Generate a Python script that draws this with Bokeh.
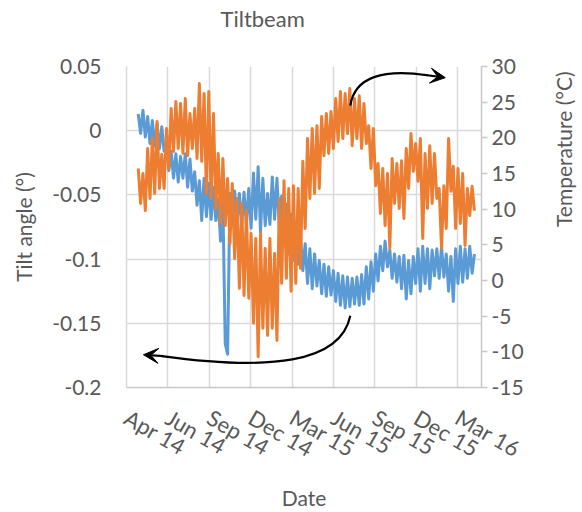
import math
import pandas as pd
from bokeh.plotting import figure
from bokeh.models import Range1d, LinearAxis, FixedTicker, Arrow, VeeHead, Title
from bokeh.embed import file_html
from bokeh.resources import INLINE

# ---------------- data ----------------
START = pd.Timestamp("2014-04-01")

tick_days = [0, 88, 176, 264, 352, 440, 528, 616, 704]
tick_labels = ["Apr 14", "Jun 14", "Sep 14", "Dec 14", "Mar 15",
               "Jun 15", "Sep 15", "Dec 15", "Mar 16"]

tilt_ticks = [-0.2, -0.15, -0.1, -0.05, 0.0, 0.05]
tilt_tick_labels = ["-0.2", "-0.15", "-0.1", "-0.05", "0", "0.05"]
temp_ticks = [-15, -10, -5, 0, 5, 10, 15, 20, 25, 30]
temp_tick_labels = ["-15", "-10", "-5", "0", "5", "10", "15", "20", "25", "30"]

# sample days after START (every 5 days)
sample_days = list(range(25, 745, 5))

tilt = [0.013, -0.002, 0.016, -0.005, 0.011, -0.010, 0.008, -0.012, 0.005, -0.014,
        0.003, -0.016, -0.010, -0.031, -0.016, -0.037, -0.018, -0.040, -0.020, -0.037,
        -0.018, -0.044, -0.022, -0.047, -0.032, -0.058, -0.039, -0.070, -0.037, -0.067,
        -0.041, -0.069, -0.044, -0.070, -0.053, -0.086, -0.057, -0.166, -0.174, -0.049,
        -0.070, -0.047, -0.072, -0.049, -0.074, -0.048, -0.073, -0.045, -0.076, -0.033,
        -0.069, -0.028, -0.079, -0.037, -0.074, -0.049, -0.073, -0.036, -0.069, -0.037,
        -0.074, -0.051, -0.084, -0.057, -0.096, -0.065, -0.101, -0.072, -0.104, -0.082,
        -0.109, -0.088, -0.119, -0.092, -0.123, -0.096, -0.121, -0.101, -0.127, -0.104,
        -0.129, -0.106, -0.128, -0.109, -0.133, -0.111, -0.136, -0.113, -0.138, -0.114,
        -0.137, -0.115, -0.135, -0.114, -0.136, -0.112, -0.135, -0.106, -0.131, -0.102,
        -0.125, -0.096, -0.117, -0.090, -0.109, -0.086, -0.106, -0.093, -0.115, -0.096,
        -0.118, -0.098, -0.123, -0.097, -0.131, -0.101, -0.127, -0.098, -0.119, -0.092,
        -0.125, -0.090, -0.119, -0.092, -0.123, -0.093, -0.113, -0.092, -0.115, -0.090,
        -0.114, -0.096, -0.125, -0.098, -0.133, -0.092, -0.119, -0.090, -0.118, -0.092,
        -0.115, -0.090, -0.111, -0.096]

temp = [15.7, 10.8, 15.0, 9.8, 18.5, 11.5, 19.9, 12.2, 22.3, 12.9,
        17.7, 12.9, 21.3, 15.7, 24.1, 18.1, 25.1, 18.5, 24.8, 17.8,
        25.5, 17.5, 23.4, 18.5, 24.1, 17.1, 27.6, 16.7, 26.2, 12.2,
        26.5, 11.5, 23.4, 10.1, 17.8, 8.0, 17.1, 7.7, 14.3, 5.2,
        13.6, 3.1, 11.5, -1.1, 10.8, -2.1, 9.8, -2.5, 6.6, -6.0,
        5.9, -10.7, 6.6, -6.7, 4.5, -7.7, 5.9, -6.7, 3.8, -8.4,
        11.5, -0.4, 14.0, 0.3, 12.9, -1.5, 13.3, -0.4, 12.9, 1.7,
        16.7, 7.3, 19.9, 11.5, 21.3, 12.2, 21.7, 12.9, 23.0, 17.5,
        23.4, 17.8, 23.7, 18.5, 25.5, 19.5, 26.5, 19.9, 26.2, 20.6,
        26.9, 18.9, 25.5, 19.9, 25.9, 18.5, 24.8, 19.2, 21.7, 15.7,
        21.3, 13.3, 16.4, 9.4, 15.7, 7.7, 15.0, 4.5, 17.1, 10.8,
        16.4, 10.1, 16.8, 8.7, 18.5, 12.9, 20.6, 15.3, 19.2, 13.9,
        19.9, 5.9, 17.8, 10.1, 18.9, 10.8, 17.8, 11.5, 12.9, 4.5,
        13.3, 7.3, 19.9, 12.5, 16.0, 7.3, 15.7, 8.0, 15.0, 4.9,
        12.9, 9.1, 13.2, 9.8]

# annotation arrows (day offset, tilt units)
up_curve = dict(x0=476, y0=0.0195, cx0=485, cy0=0.0421, cx1=547, cy1=0.0483, x1=640, y1=0.0432)
up_head = dict(xs=632, ys=0.0436, xe=678, ye=0.0413)
down_curve = dict(x0=476, y0=-0.1441, cx0=455, cy0=-0.1815, cx1=302, cy1=-0.1869, x1=75, y1=-0.1755)
down_head = dict(xs=79, ys=-0.1756, xe=36, ye=-0.1745)
X_END_DAY = 755

# ---------------- helpers ----------------
def ms(day):
    return (START + pd.Timedelta(days=float(day))).value / 1e6

TEXT = "#595959"
GRID = "#D9D9D9"
FONT = "Lato"

x = [ms(d) for d in sample_days]
tick_ms = [ms(d) for d in tick_days]

p = figure(frame_width=355, frame_height=321, output_backend="svg", toolbar_location=None,
           x_range=Range1d(ms(0), ms(X_END_DAY)), y_range=Range1d(-0.2, 0.05),
           min_border_left=126, min_border_right=10, min_border_top=66,
           min_border_bottom=10)
p.outline_line_color = None
p.background_fill_color = "white"
p.border_fill_color = "white"
p.title_location = None

p.extra_y_ranges = {"temp": Range1d(-15, 30)}

# x axis
xa = p.xaxis[0]
xa.ticker = FixedTicker(ticks=tick_ms)
xa.major_label_overrides = {t: l for t, l in zip(tick_ms, tick_labels)}
xa.major_label_orientation = -0.52
xa.major_label_standoff = 22
xa.axis_label = "Date"
xa.major_tick_line_color = None
xa.minor_tick_line_color = None
xa.axis_line_color = "#C8C8C8"
xa.axis_line_width = 1.5

# left axis
ya = p.yaxis[0]
ya.ticker = FixedTicker(ticks=tilt_ticks)
ya.major_label_overrides = {t: l for t, l in zip(tilt_ticks, tilt_tick_labels)}
ya.axis_label = "Tilt angle (°)"
ya.major_tick_line_color = None
ya.minor_tick_line_color = None
ya.axis_line_color = GRID
ya.axis_line_width = 1.5
ya.major_label_standoff = 19

# right axis
ra = LinearAxis(y_range_name="temp", ticker=FixedTicker(ticks=temp_ticks))
ra.major_label_overrides = {t: l for t, l in zip(temp_ticks, temp_tick_labels)}
ra.minor_tick_line_color = None
ra.major_tick_in = 0
ra.major_tick_out = 6
ra.major_tick_line_color = "#C8C8C8"
ra.major_tick_line_width = 1.5
ra.axis_line_color = "#C8C8C8"
ra.axis_line_width = 1.5
ra.major_label_standoff = 4
ra.axis_label = "Temperature (°C)"
if "axis_label_orientation" in ra.properties():
    ra.axis_label_orientation = math.pi / 2
p.add_layout(ra, "right")

for ax in [xa, ya, ra]:
    ax.major_label_text_font = FONT
    ax.major_label_text_font_size = "21px"
    ax.major_label_text_color = TEXT
    ax.axis_label_text_font = FONT
    ax.axis_label_text_font_size = "21px"
    ax.axis_label_text_font_style = "normal"
    ax.axis_label_text_color = TEXT
xa.major_label_text_font_size = "22px"
xa.axis_label_standoff = 8
ya.axis_label_standoff = 13
ra.axis_label_standoff = 37

# title: a trailing empty line keeps it high above the frame
p.add_layout(Title(text="Tiltbeam\n", align="left", offset=94, vertical_align="bottom",
                   standoff=4, text_font=FONT, text_font_size="22px",
                   text_line_height=1.2, text_font_style="normal", text_color=TEXT), "above")

# grids
p.xgrid.ticker = FixedTicker(ticks=tick_ms)
p.ygrid.ticker = FixedTicker(ticks=tilt_ticks)
for g in [p.xgrid[0], p.ygrid[0]]:
    g.grid_line_color = GRID
    g.grid_line_width = 1.5

# series
p.line(x, tilt, line_color="#5B9BD5", line_width=3, line_join="round")
p.line(x, temp, y_range_name="temp", line_color="#ED7D31", line_width=3,
       line_join="round")

# arrows
for c, h in [(up_curve, up_head), (down_curve, down_head)]:
    p.bezier(x0=[ms(c["x0"])], y0=[c["y0"]], x1=[ms(c["x1"])], y1=[c["y1"]],
             cx0=[ms(c["cx0"])], cy0=[c["cy0"]], cx1=[ms(c["cx1"])], cy1=[c["cy1"]],
             line_color="black", line_width=2.2)
    p.add_layout(Arrow(end=VeeHead(size=15, fill_color="black", line_color="black"),
                       x_start=ms(h["xs"]), y_start=h["ys"], x_end=ms(h["xe"]), y_end=h["ye"],
                       line_color="black", line_width=2.2))

open("out.html", "w").write(file_html(p, INLINE))
